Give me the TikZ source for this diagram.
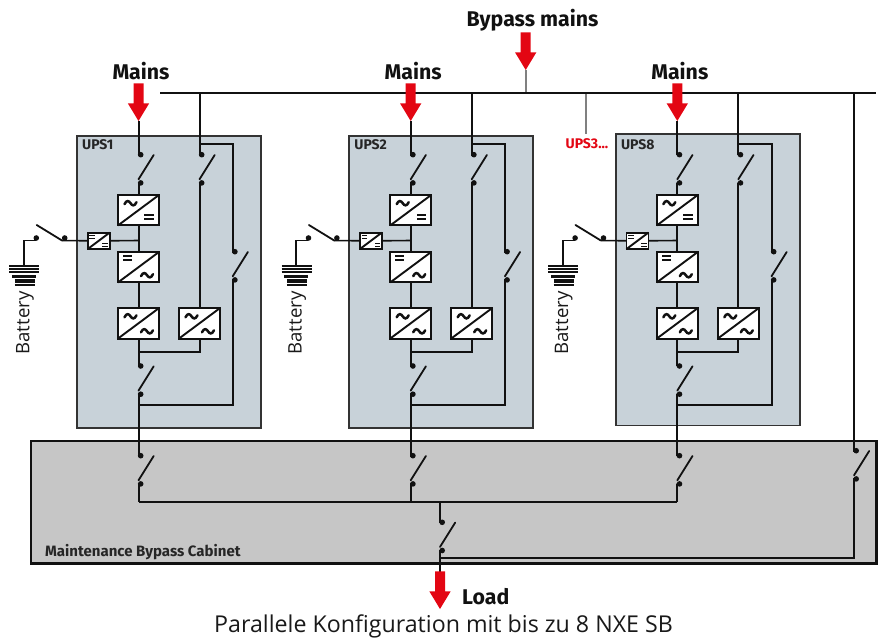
\documentclass[tikz,border=0pt]{standalone}
\usepackage{fontspec}
\setmainfont{Open Sans}
\newfontfamily\labelfont{Fira Sans}
\usetikzlibrary{calc}
\definecolor{upsfill}{HTML}{C8D2D9}
\definecolor{cabfill}{HTML}{C6C6C6}
\definecolor{arrowred}{HTML}{E30613}
\definecolor{inkdark}{HTML}{111111}
\tikzset{
  wire/.style={draw=inkdark,line width=2pt,line join=miter},
  greywire/.style={draw=black!50,line width=2pt},
  blade/.style={draw=inkdark,line width=1.8pt,line cap=round},
  dotnode/.style={circle,fill=inkdark,draw=none,minimum size=5.6pt,inner sep=0pt,outer sep=0pt},
  upsbox/.style={draw=black!80,line width=1.8pt,fill=upsfill},
  cabbox/.style={draw=inkdark,line width=2.6pt,fill=cabfill},
  convbox/.style={draw=inkdark,fill=white,line width=2pt,minimum width=41pt,minimum height=30.5pt,inner sep=0pt,outer sep=0pt},
  smallconv/.style={draw=inkdark,fill=white,line width=1.9pt,minimum width=22pt,minimum height=16.5pt,inner sep=0pt,outer sep=0pt},
  headlabel/.style={font=\labelfont\bfseries\fontsize{21.3}{24}\selectfont,text=inkdark,inner sep=0pt},
  upslabel/.style={font=\labelfont\bfseries\fontsize{14}{16}\selectfont,text=black!85,inner sep=0pt,anchor=west},
  tildeglyph/.pic={\draw[draw=inkdark,line width=2.5pt,line cap=round] (-6,1) .. controls (-4,-3.5) and (-1.5,-2.5) .. (0,0) .. controls (1.5,2.5) and (4,3.5) .. (6,-1);},
  eqglyph/.pic={\fill[inkdark] (-4.7,-2.8) rectangle (4.7,-.9); \fill[inkdark] (-4.7,.9) rectangle (4.7,2.8);},
  smalleq/.pic={\fill[inkdark] (-2.8,-1.8) rectangle (2.8,-.7); \fill[inkdark] (-2.8,.7) rectangle (2.8,1.8);},
  redarrow/.pic={\fill[arrowred] (0,0) -- (-10.7,-17.7) -- (-5,-17.7) -- (-5,-37.7) -- (5,-37.7) -- (5,-17.7) -- (10.7,-17.7) -- cycle;},
}
% switch: #1 name, #2 x of the wire, #3 y of the upper contact
\newcommand{\swgear}[3]{%
  \coordinate (#1-tl) at (#2,#3);
  \coordinate (#1-bl) at (#2,#3+28.2);
  \node[dotnode] (#1-t) at (#2+2.2,#3) {};
  \node[dotnode] (#1-b) at (#2+2.2,#3+28.2) {};
  \coordinate (#1-p) at (#2,#3+24.6);
  \coordinate (#1-q) at (#2+15.2,#3+.3);
  \draw[blade] (#1-p) -- (#1-q);
}
\newcommand{\convdiag}[1]{\draw[draw=inkdark,line width=1.9pt] (#1.south west) -- (#1.north east);}
\begin{document}
\begin{tikzpicture}[x=1pt,y=-1pt]
\useasboundingbox (0,0) rectangle (880,639);
% cabinet
\draw[cabbox] (31,441) rectangle (876.5,563.5);
\node[upslabel,font=\labelfont\bfseries\fontsize{15}{17}\selectfont] (cablabel) at (45,552) {Maintenance Bypass Cabinet};
% bus
\coordinate (bus-l) at (160,93.3);
\coordinate (bus-r) at (875.7,93.3);
\coordinate (bp-tip) at (525.7,70);
\coordinate (bp-bus) at (525.7,93.3);
\coordinate (u3-bus) at (585.5,93.3);
\coordinate (u3-end) at (585.5,134);
\draw[greywire] (bp-tip) -- (bp-bus);
\draw[greywire] (u3-bus) -- (u3-end);
\draw[wire] (bus-l) -- (bus-r);
\pic at (bp-tip) {redarrow};
\node[headlabel] (bplabel) at (532.5,20.5) {Bypass mains};
\node[font=\labelfont\bfseries\fontsize{14}{16}\selectfont,text=arrowred,inner sep=0pt] (u3label) at (587,144) {UPS3...};
% modules
\foreach \m/\dx/\ty/\by/\nm in {a/0/136/427.7/UPS1,b/272.2/135.7/427.7/UPS2,c/538.8/134/425.5/UPS8}{
\begin{scope}[xshift=\dx pt]
  \draw[upsbox] (77,\ty) rectangle (261,\by);
  \node[upslabel] (\m-name) at (82,144.5) {\nm};
  \node[headlabel] (\m-mains) at (141,71) {Mains};
  \coordinate (\m-in) at (138.5,121);
  \coordinate (\m-busb) at (199.5,93.3);
  \coordinate (\m-br) at (199.5,144.3);
  \coordinate (\m-j1) at (138.5,352.3);
  \coordinate (\m-j2) at (138.5,405);
  \coordinate (\m-j3) at (138.5,240.5);
  \coordinate (\m-j4) at (138.5,501.7);
  \coordinate (\m-bl) at (36,240.5);
  \coordinate (\m-bm) at (62,240.5);
  \coordinate (\m-gnd) at (24,265.5);
  \swgear{\m-s1}{138.5}{154.7}
  \swgear{\m-s2}{199.5}{154.7}
  \swgear{\m-s3}{232.7}{251.7}
  \swgear{\m-s4}{138.5}{366}
  \swgear{\m-s5}{138.5}{455.7}
  \node[convbox] (\m-r1) at (138.5,210.2) {};
  \node[convbox] (\m-r2) at (138.5,267.2) {};
  \node[convbox] (\m-r3) at (138.5,323.3) {};
  \node[convbox] (\m-r4) at (199.5,323.3) {};
  \node[smallconv] (\m-dc) at (98.7,240.8) {};
  \foreach \r in {r1,r2,r3,r4,dc}{\convdiag{\m-\r}}
  \pic at ($(\m-r1)+(-8,-7)$) {tildeglyph};
  \pic at ($(\m-r1)+(10.5,7)$) {eqglyph};
  \pic at ($(\m-r2)+(-11,-9)$) {eqglyph};
  \pic at ($(\m-r2)+(8.5,8)$) {tildeglyph};
  \pic at ($(\m-r3)+(-8,-7)$) {tildeglyph};
  \pic at ($(\m-r3)+(8.5,8)$) {tildeglyph};
  \pic at ($(\m-r4)+(-8,-7)$) {tildeglyph};
  \pic at ($(\m-r4)+(8.5,8)$) {tildeglyph};
  \pic at ($(\m-dc)+(-6.5,-4)$) {smalleq};
  \pic at ($(\m-dc)+(6.5,4)$) {smalleq};
  % wires
  \draw[wire] (\m-in) -- (\m-s1-tl) -- (\m-s1-t);
  \draw[wire] (\m-s1-b) -- (\m-s1-bl) -- (\m-r1.north);
  \draw[wire] (\m-r1.south) -- (\m-r2.north);
  \draw[wire] (\m-r2.south) -- (\m-r3.north);
  \draw[wire] (\m-r3.south) -- (\m-j1) -- (\m-s4-tl) -- (\m-s4-t);
  \draw[wire] (\m-busb) -- (\m-s2-tl) -- (\m-s2-t);
  \draw[wire] (\m-s2-b) -- (\m-s2-bl) -- (\m-r4.north);
  \draw[wire] (\m-r4.south) |- (\m-j1);
  \draw[wire] (\m-br) -| (\m-s3-tl) -- (\m-s3-t);
  \draw[wire] (\m-s3-b) -- (\m-s3-bl) |- (\m-j2);
  \draw[wire] (\m-s4-b) -- (\m-s4-bl) -- (\m-s5-tl) -- (\m-s5-t);
  \draw[wire] (\m-s5-b) -- (\m-s5-bl) -- (\m-j4);
  \draw[wire,line width=1.6pt] (\m-dc.east) -- (\m-j3);
  % battery
  \node[dotnode] (\m-bd1) at (36.3,238) {};
  \node[dotnode] (\m-bd2) at (64.7,238) {};
  \coordinate (\m-bq) at (36.7,225);
  \draw[blade] (\m-bm) -- (\m-bq);
  \draw[wire,line width=1.6pt] (\m-dc.west) -- (\m-bm);
  \draw[wire,line width=1.6pt] (\m-bl) -| (\m-gnd);
  \draw[draw=inkdark,line width=1.7pt] (9.3,266) -- (39.3,266);
  \draw[draw=inkdark,line width=1.7pt] (9.3,269) -- (39.3,269);
  \draw[draw=inkdark,line width=1.7pt] (9.3,272) -- (39.3,272);
  \draw[draw=inkdark,line width=2.8pt] (12,276.2) -- (36,276.2);
  \draw[draw=inkdark,line width=3.4pt] (14.7,280.8) -- (34.7,280.8);
  \draw[draw=inkdark,line width=2.2pt] (14.7,284.8) -- (34.7,284.8);
  \node[rotate=90,font=\fontsize{18.6}{22}\selectfont,text=black!90,inner sep=0pt] (\m-batt) at (25,323) {Battery};
  \pic at (\m-in) {redarrow};
\end{scope}
}
% cabinet bus and the output
\draw[wire] (a-j4) -- (c-j4);
\coordinate (busc) at (440,501.7);
\coordinate (ret) at (440,558);
\coordinate (load-tip) at (440,609);
\coordinate (load-top) at (440,572);
\coordinate (by-r) at (854,93.3);
\swgear{ms}{440}{522.3}
\swgear{rs}{854}{450.7}
\draw[wire] (busc) -- (ms-tl) -- (ms-t);
\draw[wire] (ms-b) -- (ms-bl) -- (load-top);
\draw[wire] (by-r) -- (rs-tl) -- (rs-t);
\draw[wire] (rs-b) -- (rs-bl) |- (ret);
\pic at (load-tip) {redarrow};
\node[headlabel,anchor=west] (loadlabel) at (462,597) {Load};
\node[font=\fontsize{23.2}{26}\selectfont,text=black!90,inner sep=0pt] (caption) at (443.5,626) {Parallele Konfiguration mit bis zu 8 NXE SB};
\end{tikzpicture}
\end{document}
